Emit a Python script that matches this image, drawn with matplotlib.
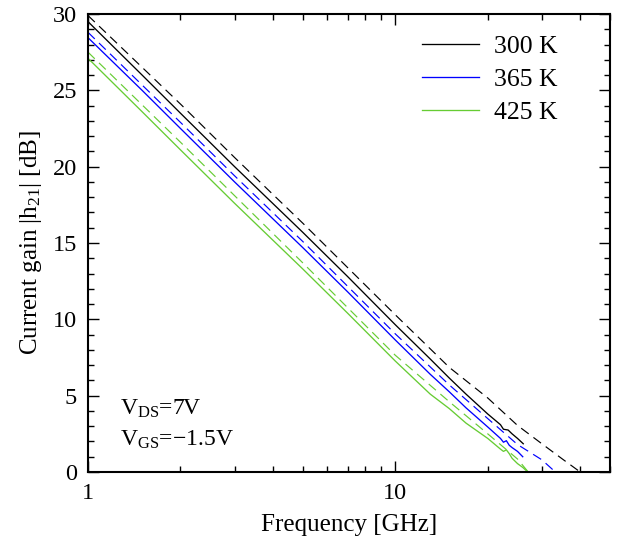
import matplotlib
matplotlib.use("Agg")
import matplotlib.pyplot as plt
from matplotlib.ticker import LogLocator, NullFormatter, FixedLocator, FixedFormatter, MultipleLocator

plt.rcParams['font.family'] = ['Liberation Serif', 'DejaVu Serif']
plt.rcParams['mathtext.fontset'] = 'custom'
plt.rcParams['mathtext.rm'] = 'Liberation Serif'
plt.rcParams['mathtext.it'] = 'Liberation Serif:italic'

labels = ['300 K', '365 K', '425 K']
colors = ['#000000', '#0000ff', '#66cc33']

# measured (solid)
f_300 = [1, 1.5, 2, 3, 5, 7, 10, 13, 15, 17, 20, 22, 22.5, 23.3, 24, 25, 26.1]
g_300 = [29.5, 26.0, 23.5, 20.0, 15.7, 12.8, 9.65, 7.4, 6.15, 5.1, 3.8, 3.1, 2.8, 2.75, 2.5, 2.2, 1.85]
f_365 = [1, 1.5, 2, 3, 5, 7, 10, 13, 15, 17, 20, 22, 22.5, 23, 23.5, 24, 25, 26]
g_365 = [28.45, 25.0, 22.5, 19.0, 14.7, 11.8, 8.65, 6.4, 5.25, 4.2, 2.95, 2.2, 1.95, 2.05, 1.75, 1.6, 1.35, 1.0]
f_425 = [1, 1.5, 2, 3, 5, 7, 10, 13, 15, 17, 20, 22, 22.5, 23, 23.5, 24, 25, 26, 27]
g_425 = [27.1, 23.6, 21.1, 17.6, 13.3, 10.4, 7.27, 5.1, 4.15, 3.2, 2.2, 1.5, 1.35, 1.45, 1.2, 0.9, 0.55, 0.3, 0.0]

# fitted (dashed)
fd_300 = [1, 2, 3, 5, 10, 15, 20, 25, 30, 35, 40]
gd_300 = [29.9, 24.1, 20.6, 16.3, 10.3, 6.85, 4.85, 3.05, 1.85, 0.85, 0.0]
fd_365 = [1, 2, 3, 5, 10, 15, 20, 25, 30, 33.2]
gd_365 = [28.8, 22.9, 19.4, 15.1, 9.05, 5.7, 3.5, 1.8, 0.8, 0.0]
fd_425 = [1, 2, 3, 5, 10, 15, 20, 25, 27.1]
gd_425 = [27.5, 21.6, 18.1, 13.7, 7.65, 4.6, 2.5, 0.85, 0.0]

fig = plt.figure(figsize=(6.17, 5.43), dpi=100)
ax = fig.add_axes([88/617, 1-472/543, (610-88)/617, (472-14)/543])

meas = [(f_300, g_300), (f_365, g_365), (f_425, g_425)]
fits = [(fd_300, gd_300), (fd_365, gd_365), (fd_425, gd_425)]
for (f, g), c, lab in zip(meas, colors, labels):
    ax.plot(f, g, color=c, lw=0.95, label=lab)
for (f, g), c in zip(fits, colors):
    ax.plot(f, g, color=c, lw=0.85, dashes=(8, 5))

ax.set_xscale('log')
ax.set_xlim(1, 50)
ax.set_ylim(0, 30)
ax.xaxis.set_major_locator(FixedLocator([1, 10]))
ax.xaxis.set_major_formatter(FixedFormatter(['1', '10']))
ax.xaxis.set_minor_locator(LogLocator(base=10, subs=range(2, 10), numticks=20))
ax.xaxis.set_minor_formatter(NullFormatter())
ax.yaxis.set_major_locator(MultipleLocator(5))
ax.yaxis.set_minor_locator(MultipleLocator(1))

ax.tick_params(which='both', direction='in', top=True, right=True, labelsize=17.5, width=1.0)
ax.tick_params(which='major', length=8, pad=8)
ax.tick_params(which='minor', length=4)
for s in ax.spines.values():
    s.set_linewidth(1.5)

ax.set_xlabel('Frequency [GHz]', fontsize=18, labelpad=7)
ax.set_ylabel('Current gain |h$_{21}$| [dB]', fontsize=18, labelpad=6)

ax.text(0.062, 0.126, 'V$_{\\rm DS}$=7V', transform=ax.transAxes, fontsize=17)
ax.text(0.062, 0.058, 'V$_{\\rm GS}$=\u22121.5V', transform=ax.transAxes, fontsize=17)

leg = ax.legend(loc='upper right', bbox_to_anchor=(0.9, 0.955), frameon=False,
                fontsize=18.5, handlelength=2.2, handletextpad=0.6,
                labelspacing=0.39, borderpad=0, borderaxespad=0)

fig.savefig('out.png', dpi=100)
